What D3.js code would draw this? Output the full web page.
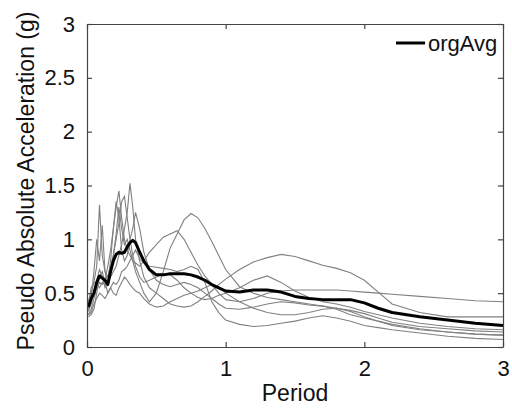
<!DOCTYPE html>
<html>
<head>
<meta charset="utf-8">
<script src="https://cdn.jsdelivr.net/npm/d3@7"></script>
<style>
body { margin:0; background:#fff; }
text { font-family: "Liberation Sans", Arial, sans-serif; fill:#111; }
</style>
</head>
<body>
<div id="chart"></div>
<script>
var periods = [0.01,0.03,0.05,0.07,0.09,0.11,0.13,0.15,0.17,0.19,0.21,0.23,0.25,0.27,0.29,0.31,0.33,0.35,0.38,0.41,0.45,0.5,0.55,0.6,0.65,0.7,0.75,0.8,0.85,0.9,0.95,1.0,1.1,1.2,1.3,1.4,1.5,1.6,1.7,1.8,1.9,2.0,2.1,2.2,2.4,2.6,2.8,3.0];

var rec1 = [.33,.4,.5,.62,.72,.65,.55,.6,.72,.85,1.05,1.3,1.1,.95,1.0,.9,.8,.7,.6,.5,.42,.5,.7,.92,1.05,1.18,1.24,1.2,1.1,.98,.85,.72,.56,.5,.46,.44,.42,.4,.38,.35,.3,.27,.24,.2,.16,.14,.12,.11];
var rec2 = [.3,.35,.45,.55,.6,.58,.62,.75,.9,1.1,1.3,1.45,1.2,1.0,.9,.85,.8,.78,.75,.8,.88,.95,1.02,1.05,1.08,1.0,.88,.76,.66,.58,.5,.44,.42,.45,.5,.52,.53,.53,.53,.53,.52,.51,.5,.49,.47,.45,.43,.42];
var rec3 = [.42,.5,.6,.75,1.32,.85,.7,.6,.65,.7,.75,.85,.95,1.1,1.25,1.52,1.3,1.0,.8,.65,.55,.5,.45,.4,.38,.37,.38,.42,.47,.52,.58,.63,.72,.79,.83,.86,.84,.8,.76,.73,.69,.62,.51,.4,.32,.28,.28,.28];
var rec4 = [.28,.3,.35,.5,.65,.7,.6,.5,.55,.6,.58,.62,.7,.72,.75,.8,.85,.9,.82,.78,.75,.74,.73,.72,.7,.72,.75,.72,.6,.42,.32,.25,.21,.19,.2,.22,.24,.27,.29,.27,.24,.2,.18,.16,.13,.1,.08,.07];
var rec5 = [.35,.45,.7,1.0,.8,1.13,.7,.65,.75,.85,1.0,1.15,1.35,1.4,1.2,1.0,.85,.75,.65,.6,.62,.65,.68,.67,.62,.55,.5,.46,.44,.45,.48,.5,.55,.62,.66,.6,.52,.46,.42,.4,.37,.33,.3,.27,.22,.19,.17,.16];
var rec6 = [.3,.32,.4,.45,.5,.48,.45,.5,.55,.5,.48,.55,.6,.65,.62,.58,.55,.52,.5,.45,.4,.37,.38,.42,.45,.48,.5,.52,.55,.58,.56,.5,.42,.36,.32,.3,.3,.32,.35,.36,.33,.28,.24,.21,.17,.14,.12,.11];
var rec7 = [.4,.55,.6,.58,.55,.6,.58,.62,.8,1.1,1.35,1.2,.9,.8,.85,1.0,1.1,1.25,1.1,.88,.72,.62,.58,.56,.58,.6,.58,.55,.5,.45,.4,.36,.35,.37,.4,.42,.41,.39,.38,.36,.34,.31,.27,.23,.19,.17,.15,.14];
var orgAvg = [.37,.45,.5,.6,.66,.64,.62,.58,.7,.8,.86,.88,.87,.88,.93,.97,.99,.97,.88,.8,.72,.67,.67,.68,.68,.68,.67,.65,.62,.58,.55,.52,.51,.53,.53,.51,.47,.45,.44,.44,.44,.41,.36,.32,.28,.25,.22,.2];

var records = [rec1, rec2, rec3, rec4, rec5, rec6, rec7];
var xTicks = [0, 1, 2, 3];
var yTicks = [0, 0.5, 1, 1.5, 2, 2.5, 3];

var width = 512, height = 408;
var margin = {top:24, right:9, bottom:61, left:87};
var innerWidth = width - margin.left - margin.right;
var innerHeight = height - margin.top - margin.bottom;

var svg = d3.select("#chart").append("svg")
	.attr("width", width)
	.attr("height", height);

var g = svg.append("g")
	.attr("transform", "translate(" + margin.left + "," + margin.top + ")");

var xscale = d3.scaleLinear().domain([0, 3]).range([0, innerWidth]);
var yscale = d3.scaleLinear().domain([0, 3]).range([innerHeight, 0]);

var line = d3.line()
	.x((d, i) => xscale(periods[i]))
	.y(d => yscale(d));

// gray records
g.selectAll(".rec").data(records)
	.enter().append("path")
	.attr("class", "rec")
	.attr("d", line)
	.attr("fill", "none")
	.attr("stroke", "#808080")
	.attr("stroke-width", 1.1);

// average
g.append("path")
	.attr("d", line(orgAvg))
	.attr("fill", "none")
	.attr("stroke", "#000")
	.attr("stroke-width", 3)
	.attr("stroke-linejoin", "round");

// axes, matlab style with inward ticks
var fmt = d3.format("~g");
var xaxis = d3.axisBottom(xscale).tickValues(xTicks).tickFormat(fmt).tickSizeInner(-5).tickSizeOuter(0).tickPadding(13);
var yaxis = d3.axisLeft(yscale).tickValues(yTicks).tickFormat(fmt).tickSizeInner(-5).tickSizeOuter(0).tickPadding(12);
var xtop = d3.axisTop(xscale).tickValues(xTicks).tickFormat("").tickSizeInner(-5).tickSizeOuter(0);
var yright = d3.axisRight(yscale).tickValues(yTicks).tickFormat("").tickSizeInner(-5).tickSizeOuter(0);

g.append("g").attr("transform", "translate(0," + innerHeight + ")").call(xaxis);
g.append("g").call(yaxis);
g.append("g").call(xtop);
g.append("g").attr("transform", "translate(" + innerWidth + ",0)").call(yright);

g.selectAll(".domain, .tick line").attr("stroke", "#444").attr("stroke-width", 1.2);
g.selectAll(".tick text").attr("font-size", 22).attr("fill", "#111")
	.attr("font-family", "'Liberation Sans', Arial, sans-serif");

// labels
svg.append("text")
	.attr("x", margin.left + innerWidth / 2)
	.attr("y", 401)
	.attr("text-anchor", "middle")
	.attr("font-size", 23)
	.text("Period");

svg.append("text")
	.attr("transform", "translate(34,181) rotate(-90)")
	.attr("text-anchor", "middle")
	.attr("font-size", 23)
	.text("Pseudo Absolute Acceleration (g)");

// legend
var lg = svg.append("g").attr("transform", "translate(396,43)");
lg.append("line").attr("x1", 0).attr("x2", 29).attr("y1", 0).attr("y2", 0)
	.attr("stroke", "#000").attr("stroke-width", 3);
lg.append("text").attr("x", 32).attr("y", 7.5)
	.attr("font-size", 22).text("orgAvg");
</script>
</body>
</html>
